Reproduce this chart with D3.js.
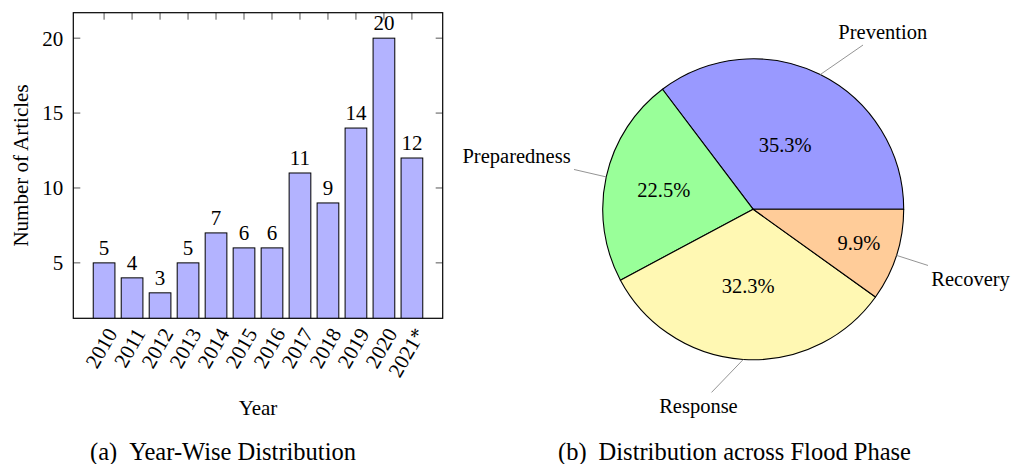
<!DOCTYPE html>
<html>
<head>
<meta charset="utf-8">
<script src="https://cdn.jsdelivr.net/npm/d3@7"></script>
<style>
  body { margin: 0; background: #fff; }
  text { font-family: "Liberation Serif", "Times New Roman", serif; fill: #000; }
</style>
</head>
<body>
<div id="wrapper"></div>
<script>
// data
const years = ["2010", "2011", "2012", "2013", "2014", "2015", "2016", "2017", "2018", "2019", "2020", "2021*"];
const articles = [5, 4, 3, 5, 7, 6, 6, 11, 9, 14, 20, 12];
const yTicks = [5, 10, 15, 20];

const phases = ["Prevention", "Preparedness", "Response", "Recovery"];
const phaseShare = [35.3, 22.5, 32.3, 9.9];
const phaseColors = ["#9999ff", "#99ff99", "#fff8b3", "#ffcc99"];

const captions = [["(a)", "Year-Wise Distribution"], ["(b)", "Distribution across Flood Phase"]];

const svg = d3.select("#wrapper")
  .append("svg")
    .attr("width", 1013)
    .attr("height", 464);

// ---------- (a) bar chart ----------
const plot = { left: 73.3, right: 442.7, top: 12.7, bottom: 318.3 };
const fs = 21;

// pgfplots style: enlarge limits by 10% of data range
const yMin = d3.min(articles), yMax = d3.max(articles);
const yPad = (yMax - yMin) * 0.1;
const yScale = d3.scaleLinear()
  .domain([yMin - yPad, yMax + yPad])
  .range([plot.bottom, plot.top]);

const xPad = (years.length - 1) * 0.1;
const xScale = d3.scaleLinear()
  .domain([-xPad, years.length - 1 + xPad])
  .range([plot.left, plot.right]);

const barWidth = 21.7;
const tickLen = 7;

const bars = svg.append("g");

svg.append("defs").append("clipPath").attr("id", "plotClip")
  .append("rect")
    .attr("x", plot.left).attr("y", plot.top)
    .attr("width", plot.right - plot.left)
    .attr("height", plot.bottom - plot.top);

bars.append("g")
  .attr("clip-path", "url(#plotClip)")
  .selectAll("rect")
  .data(articles)
  .join("rect")
    .attr("x", (d, i) => xScale(i) - barWidth / 2)
    .attr("y", d => yScale(d))
    .attr("width", barWidth)
    .attr("height", d => yScale(0) - yScale(d))
    .attr("fill", "#b3b3ff")
    .attr("stroke", "#000")
    .attr("stroke-width", 1);

// value labels
bars.selectAll("text.val")
  .data(articles)
  .join("text")
    .attr("class", "val")
    .attr("x", (d, i) => xScale(i))
    .attr("y", d => yScale(d) - 8)
    .attr("text-anchor", "middle")
    .attr("font-size", fs)
    .text(d => d);

// ticks (inside, mirrored)
const ticks = svg.append("g").attr("stroke", "#555").attr("stroke-width", 1);
ticks.selectAll("line.yl")
  .data(yTicks)
  .join("line")
    .attr("x1", plot.left).attr("x2", plot.left + tickLen)
    .attr("y1", d => yScale(d)).attr("y2", d => yScale(d));
ticks.selectAll("line.yr")
  .data(yTicks)
  .join("line")
    .attr("class", "yr")
    .attr("x1", plot.right - tickLen).attr("x2", plot.right)
    .attr("y1", d => yScale(d)).attr("y2", d => yScale(d));
ticks.selectAll("line.xt")
  .data(years)
  .join("line")
    .attr("class", "xt")
    .attr("x1", (d, i) => xScale(i)).attr("x2", (d, i) => xScale(i))
    .attr("y1", plot.top).attr("y2", plot.top + tickLen);

// frame
svg.append("rect")
  .attr("x", plot.left).attr("y", plot.top)
  .attr("width", plot.right - plot.left)
  .attr("height", plot.bottom - plot.top)
  .attr("fill", "none")
  .attr("stroke", "#000")
  .attr("stroke-width", 1.2);

// y tick labels
svg.append("g").selectAll("text")
  .data(yTicks)
  .join("text")
    .attr("x", plot.left - 10)
    .attr("y", d => yScale(d))
    .attr("dy", "0.35em")
    .attr("text-anchor", "end")
    .attr("font-size", fs)
    .text(d => d);

// x tick labels, rotated 60 degrees
svg.append("g").selectAll("text")
  .data(years)
  .join("text")
    .attr("text-anchor", "end")
    .attr("font-size", fs)
    .attr("transform", (d, i) => `translate(${xScale(i) + 14},${plot.bottom + 15}) rotate(-60)`)
    .text(d => d);

// axis labels
svg.append("text")
  .attr("x", (plot.left + plot.right) / 2)
  .attr("y", 415)
  .attr("text-anchor", "middle")
  .attr("font-size", fs)
  .text("Year");

svg.append("text")
  .attr("transform", `translate(28,${(plot.top + plot.bottom) / 2}) rotate(-90)`)
  .attr("text-anchor", "middle")
  .attr("font-size", fs)
  .text("Number of Articles");

// ---------- (b) pie chart ----------
const cx = 753.2, cy = 209.3, radius = 150.5;
const pieFs = 20.5;

// pgf-pie: start at east, go counter-clockwise
const pieGen = d3.pie()
  .sort(null)
  .startAngle(Math.PI / 2)
  .endAngle(Math.PI / 2 - 2 * Math.PI);

const slices = pieGen(phaseShare);
const arcGen = d3.arc().innerRadius(0).outerRadius(radius);

const pie = svg.append("g").attr("transform", `translate(${cx},${cy})`);

pie.selectAll("path")
  .data(slices)
  .join("path")
    .attr("d", arcGen)
    .attr("fill", (d, i) => phaseColors[i])
    .attr("stroke", "#000")
    .attr("stroke-width", 1.1)
    .attr("stroke-linejoin", "round");

// middle angle, math convention (degrees, ccw from east)
const midDeg = d => 90 - (d.startAngle + d.endAngle) / 2 * 180 / Math.PI;
const spanDeg = d => Math.abs(d.endAngle - d.startAngle) * 180 / Math.PI;

// percentages inside (pgf-pie places small slices further out)
pie.selectAll("text.pct")
  .data(slices)
  .join("text")
    .attr("class", "pct")
    .attr("x", d => {
      const k = (0.8 + Math.min(-0.3 * spanDeg(d) / 110, 0)) * 1.05;
      return Math.cos(midDeg(d) * Math.PI / 180) * radius * k;
    })
    .attr("y", d => {
      const k = (0.8 + Math.min(-0.3 * spanDeg(d) / 110, 0)) * 1.05;
      return -Math.sin(midDeg(d) * Math.PI / 180) * radius * k;
    })
    .attr("dy", "0.35em")
    .attr("text-anchor", "middle")
    .attr("font-size", pieFs)
    .text(d => d.data.toFixed(1) + "%");

// pin labels outside
const pinDist = 33, innerSep = 3.4, boxH = pieFs + 2 * innerSep;
const pins = pie.append("g");
slices.forEach((d, i) => {
  const m = midDeg(d) * Math.PI / 180;
  const ux = Math.cos(m), uy = -Math.sin(m);
  const px = ux * radius, py = uy * radius;
  const ax = px + ux * pinDist, ay = py + uy * pinDist;

  const label = pins.append("text")
    .attr("text-anchor", "middle")
    .attr("dy", "0.35em")
    .attr("font-size", pieFs)
    .text(phases[i]);
  const w = label.node().getComputedTextLength() + 2 * innerSep;

  const lx = ax + Math.sign(ux) * w / 2;
  const ly = ay + Math.sign(uy) * boxH / 2;
  label.attr("x", lx).attr("y", ly);

  // leader line from the rim to the label box border
  const dx = lx - px, dy = ly - py;
  const t = Math.min((w / 2) / Math.abs(dx), (boxH / 2) / Math.abs(dy));
  pins.append("line")
    .attr("x1", px).attr("y1", py)
    .attr("x2", lx - t * dx).attr("y2", ly - t * dy)
    .attr("stroke", "#888")
    .attr("stroke-width", 0.9);
});

// ---------- captions ----------
const capX = [223, 734.5];
svg.append("g").selectAll("text")
  .data(captions)
  .join("text")
    .attr("x", (d, i) => capX[i])
    .attr("y", 459.5)
    .attr("text-anchor", "middle")
    .attr("font-size", 24.5)
    .each(function(d) {
      d3.select(this).append("tspan").text(d[0]);
      d3.select(this).append("tspan").attr("dx", 12).text(d[1]);
    });
</script>
</body>
</html>
